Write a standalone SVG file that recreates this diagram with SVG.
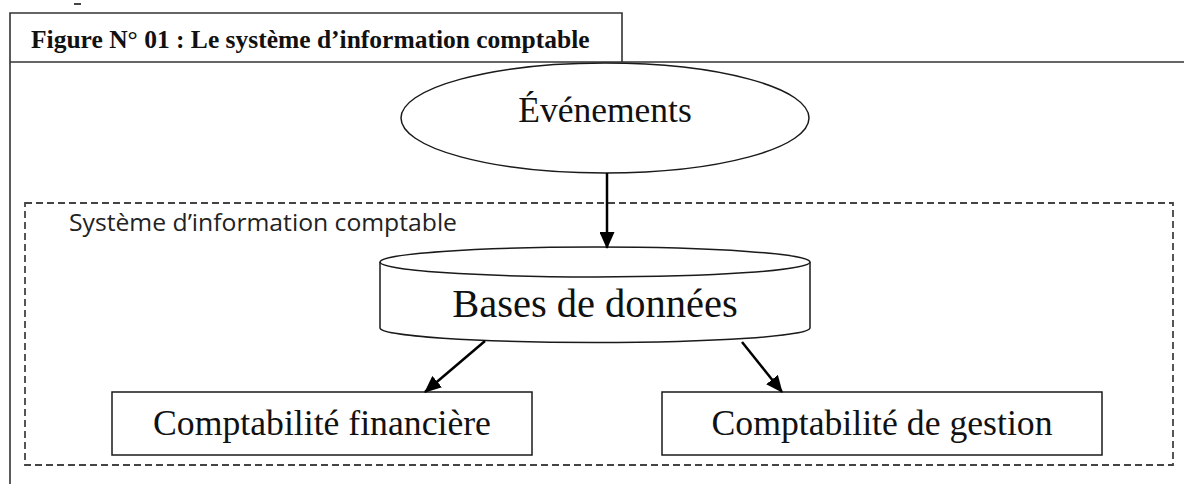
<svg xmlns="http://www.w3.org/2000/svg" width="1184" height="484" viewBox="0 0 1184 484">
<style>
.frame{fill:none;stroke:#333;stroke-width:1.6}
.shape{fill:#fff;stroke:#1a1a1a;stroke-width:1.5}
.dash{fill:none;stroke:#444;stroke-width:1.8;stroke-dasharray:7 4}
.serif{font-family:"Liberation Serif","Times New Roman",serif;fill:#111}
.sans{font-family:"Open Sans","Liberation Sans",sans-serif;fill:#222}
.conn{stroke:#000;stroke-width:2.5;fill:none}
</style>
<defs>
<marker id="ah" markerUnits="userSpaceOnUse" markerWidth="17" markerHeight="15" refX="16" refY="7.5" orient="auto">
<path d="M0,0 L17,7.5 L0,15 z" fill="#000"/>
</marker>
</defs>
<rect width="1184" height="484" fill="#fff"/>
<g id="frame">
<line x1="74" y1="4" x2="81" y2="4" stroke="#444" stroke-width="2"/>
<polyline class="frame" points="10,484 10,13 622,13 622,62"/>
<line class="frame" x1="10" y1="62" x2="1184" y2="62"/>
<text class="serif" x="31" y="48" font-size="25.5" font-weight="bold">Figure N° 01 : Le système d’information comptable</text>
</g>
<g id="sic-boundary">
<rect class="dash" x="25" y="203" width="1148" height="262"/>
<text class="sans" x="69" y="231" font-size="23" textLength="388" lengthAdjust="spacingAndGlyphs">Système d’information comptable</text>
</g>
<g id="evenements">
<ellipse class="shape" cx="605" cy="118" rx="204" ry="55"/>
<text class="serif" x="605" y="122" font-size="35.5" text-anchor="middle">Événements</text>
</g>
<g id="bases-de-donnees">
<path class="shape" d="M380,262 L380,328 A215,14.5 0 0 0 810,328 L810,262"/>
<ellipse class="shape" cx="595" cy="262" rx="215" ry="15"/>
<text class="serif" x="595" y="317" font-size="40.5" text-anchor="middle">Bases de données</text>
</g>
<g id="compta-financiere">
<rect class="shape" x="112" y="392" width="420" height="63"/>
<text class="serif" x="322" y="435" font-size="35.7" text-anchor="middle">Comptabilité financière</text>
</g>
<g id="compta-gestion">
<rect class="shape" x="662" y="392" width="440" height="63"/>
<text class="serif" x="882" y="435" font-size="35.7" text-anchor="middle">Comptabilité de gestion</text>
</g>
<g id="connectors">
<line class="conn" x1="607" y1="173" x2="607" y2="248" marker-end="url(#ah)"/>
<line class="conn" x1="485" y1="341" x2="425" y2="392" marker-end="url(#ah)"/>
<line class="conn" x1="742" y1="342" x2="782" y2="392" marker-end="url(#ah)"/>
</g>
</svg>
